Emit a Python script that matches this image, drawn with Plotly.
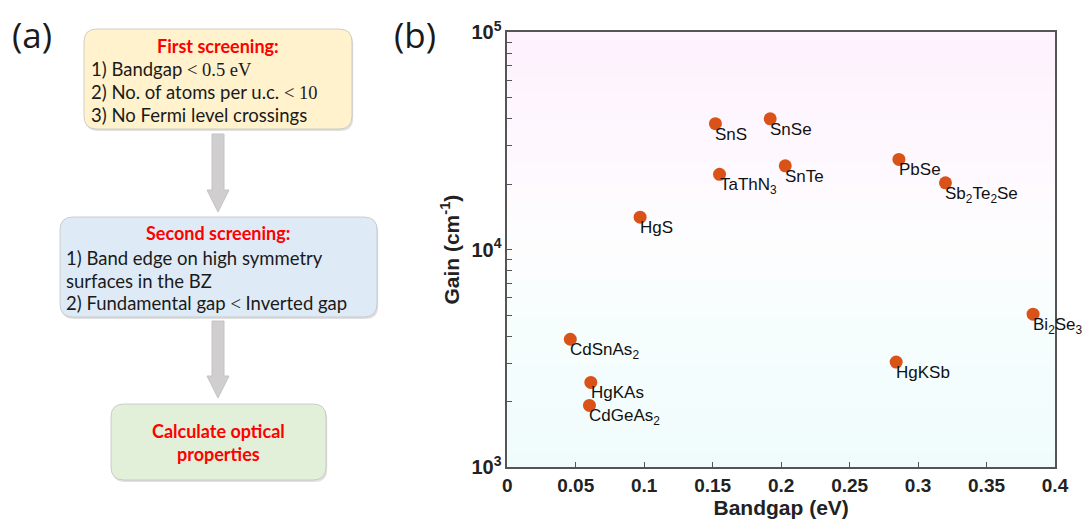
import numpy as np
import plotly.graph_objects as go

# ---- data: topological candidates, bandgap (eV) vs. optical gain (cm^-1) ----
materials = ["SnS", "SnSe", "TaThN<sub>3</sub>", "SnTe", "PbSe", "Sb<sub>2</sub>Te<sub>2</sub>Se",
             "HgS", "CdSnAs<sub>2</sub>", "HgKAs", "CdGeAs<sub>2</sub>", "Bi<sub>2</sub>Se<sub>3</sub>", "HgKSb"]
bandgap = [0.152, 0.192, 0.155, 0.203, 0.286, 0.320, 0.097, 0.046, 0.061, 0.060, 0.384, 0.284]
gain = [38000, 40000, 22200, 24300, 26000, 20300, 14100, 3870, 2450, 1920, 5050, 3040]

x_ticks = [0, 0.05, 0.1, 0.15, 0.2, 0.25, 0.3, 0.35, 0.4]
x_ticktext = ["0", "0.05", "0.1", "0.15", "0.2", "0.25", "0.3", "0.35", "0.4"]

# ---- flowchart text ----
box1_title = "First screening:"
box1_lines = [
    '1) Bandgap <span style="font-family:Liberation Serif">&lt; 0.5 eV</span>',
    '2) No. of atoms per u.c. <span style="font-family:Liberation Serif">&lt; 10</span>',
    "3) No Fermi level crossings",
]
box2_title = "Second screening:"
box2_lines = [
    "1) Band edge on high symmetry",
    "surfaces in the BZ",
    '2) Fundamental gap <span style="font-family:Liberation Serif">&lt;</span> Inverted gap',
]
box3_lines = ["Calculate optical", "properties"]

W, H = 1082, 526
AX_L, AX_R, AX_T, AX_B = 507.3, 1055.0, 32.3, 467.0

ARIAL = "Liberation Sans, Arial"
CALIBRI = "Lato, Carlito, Calibri"
RED = "#FF0000"
MARKER = "#D95319"
FRAME = "#555555"
TEXT = "#1a1a1a"


def px(x):
    return x / W


def py(y):
    return 1 - y / H


def rounded_rect(x0, y0, x1, y1, r):
    """SVG path in paper coordinates for a rounded rectangle given in pixels."""
    pts = [
        f"M {px(x0 + r)},{py(y0)}",
        f"L {px(x1 - r)},{py(y0)}",
        f"Q {px(x1)},{py(y0)} {px(x1)},{py(y0 + r)}",
        f"L {px(x1)},{py(y1 - r)}",
        f"Q {px(x1)},{py(y1)} {px(x1 - r)},{py(y1)}",
        f"L {px(x0 + r)},{py(y1)}",
        f"Q {px(x0)},{py(y1)} {px(x0)},{py(y1 - r)}",
        f"L {px(x0)},{py(y0 + r)}",
        f"Q {px(x0)},{py(y0)} {px(x0 + r)},{py(y0)}",
        "Z",
    ]
    return " ".join(pts)


def block_arrow(cx, top, head, tip, sw=6, hw=11):
    pts = [(cx - sw, top), (cx + sw, top), (cx + sw, head), (cx + hw, head),
           (cx, tip), (cx - hw, head), (cx - sw, head)]
    return "M " + " L ".join(f"{px(a)},{py(b)}" for a, b in pts) + " Z"


fig = go.Figure()

fig.add_trace(go.Scatter(
    x=bandgap, y=gain, mode="markers",
    marker=dict(size=13, color=MARKER, line=dict(width=0)),
    hoverinfo="skip", showlegend=False,
))

shapes = []

# vertical pink -> white -> cyan backdrop of the scatter panel
stops = [(0.0, (240, 252, 252)), (0.3, (246, 253, 253)), (0.5, (253, 253, 254)),
         (0.72, (254, 248, 254)), (1.0, (253, 241, 253))]


def grad_color(t):
    for (t0, c0), (t1, c1) in zip(stops[:-1], stops[1:]):
        if t0 <= t <= t1:
            f = (t - t0) / (t1 - t0)
            c = [round(a + (b - a) * f) for a, b in zip(c0, c1)]
            return f"rgb({c[0]},{c[1]},{c[2]})"
    return "white"


n_strips = 60
for i in range(n_strips):
    t0, t1 = i / n_strips, (i + 1) / n_strips
    shapes.append(dict(type="rect", xref="x domain", yref="y domain", x0=0, x1=1,
                       y0=t0, y1=t1 + 0.002, fillcolor=grad_color((t0 + t1) / 2),
                       line=dict(width=0), layer="below"))

# flowchart boxes (shadow, then box)
boxes = [
    (84, 29, 352, 129, "#FFF2CC"),
    (60, 217, 377, 317, "#DEEBF7"),
    (111, 404, 326, 480, "#E2F0D9"),
]
for x0, y0, x1, y1, col in boxes:
    shapes.append(dict(type="path", xref="paper", yref="paper",
                       path=rounded_rect(x0 + 1.2, y0 + 2, x1 + 1.2, y1 + 2, 13),
                       fillcolor="rgba(0,0,0,0.12)", line=dict(width=0)))
    shapes.append(dict(type="path", xref="paper", yref="paper",
                       path=rounded_rect(x0, y0, x1, y1, 13),
                       fillcolor=col, line=dict(color="rgba(190,190,190,0.9)", width=0.8)))

# arrows between the boxes
for top, head, tip in [(134, 190, 212), (321, 376, 398)]:
    shapes.append(dict(type="path", xref="paper", yref="paper",
                       path=block_arrow(218, top, head, tip),
                       fillcolor="#D0CECE", line=dict(color="#C4C4C4", width=1)))

annotations = []


def text_at(x, y, text, size, color=TEXT, family=CALIBRI, weight="normal",
            xanchor="center", yanchor="middle"):
    annotations.append(dict(xref="paper", yref="paper", x=px(x), y=py(y), text=text,
                            showarrow=False, xanchor=xanchor, yanchor=yanchor,
                            font=dict(size=size, color=color, family=family, weight=weight)))


# panel letters
text_at(32, 34, "(a)", 35, family="Open Sans, Liberation Sans")
text_at(415, 34, "(b)", 35, family="Open Sans, Liberation Sans")

# box 1
text_at(218, 46, box1_title, 18, color=RED, weight="bold")
for yy, line in zip([69, 92, 115], box1_lines):
    text_at(89, yy, line, 18.5, xanchor="left")

# box 2
text_at(218, 233, box2_title, 18, color=RED, weight="bold")
for yy, line in zip([258, 281, 303], box2_lines):
    text_at(64, yy, line, 18.5, xanchor="left")

# box 3
for yy, line in zip([431, 454], box3_lines):
    text_at(218, yy, line, 18, color=RED, weight="bold")

# material labels next to each point
for name, xv, yv in zip(materials, bandgap, gain):
    annotations.append(dict(xref="x", yref="y", x=xv, y=np.log10(yv), text=name,
                            showarrow=False, xanchor="left", yanchor="top",
                            xshift=-2, yshift=1,
                            font=dict(size=17, color="#111111", family=ARIAL)))

# y ticks: labels at decades, unlabeled ticks at 2..9 of each decade
y_tickvals = []
y_ticktext = []
for dec in [1e3, 1e4]:
    for m in range(1, 10):
        y_tickvals.append(m * dec)
        y_ticktext.append(f"10<sup>{int(np.log10(dec))}</sup>" if m == 1 else "")
y_tickvals.append(1e5)
y_ticktext.append("10<sup>5</sup>")

fig.update_layout(
    width=W, height=H,
    margin=dict(l=0, r=0, t=0, b=0, autoexpand=False),
    paper_bgcolor="white",
    plot_bgcolor="rgba(0,0,0,0)",
    showlegend=False,
    shapes=shapes,
    annotations=annotations,
    xaxis=dict(
        domain=[AX_L / W, AX_R / W], range=[0, 0.4], automargin=False,
        tickvals=x_ticks, ticktext=x_ticktext,
        ticks="inside", ticklen=5, tickwidth=1.2, tickcolor=FRAME,
        showline=True, linecolor=FRAME, linewidth=1.5, mirror=True,
        showgrid=False, zeroline=False,
        tickfont=dict(family=ARIAL, size=19, color="#222222", weight="bold"),
        title=dict(text="Bandgap (eV)", standoff=6,
                   font=dict(family=ARIAL, size=21, color="#222222", weight="bold")),
    ),
    yaxis=dict(
        domain=[1 - AX_B / H, 1 - AX_T / H], type="log", range=[3, 5], automargin=False,
        tickvals=y_tickvals, ticktext=y_ticktext,
        ticks="inside", ticklen=5, tickwidth=1.2, tickcolor=FRAME,
        showline=True, linecolor=FRAME, linewidth=1.5, mirror=True,
        showgrid=False, zeroline=False,
        tickfont=dict(family=ARIAL, size=20, color="#222222", weight="bold"),
        title=dict(text="Gain (cm<sup>-1</sup>)", standoff=6,
                   font=dict(family=ARIAL, size=21, color="#222222", weight="bold")),
    ),
)

fig.write_html("out.html")
